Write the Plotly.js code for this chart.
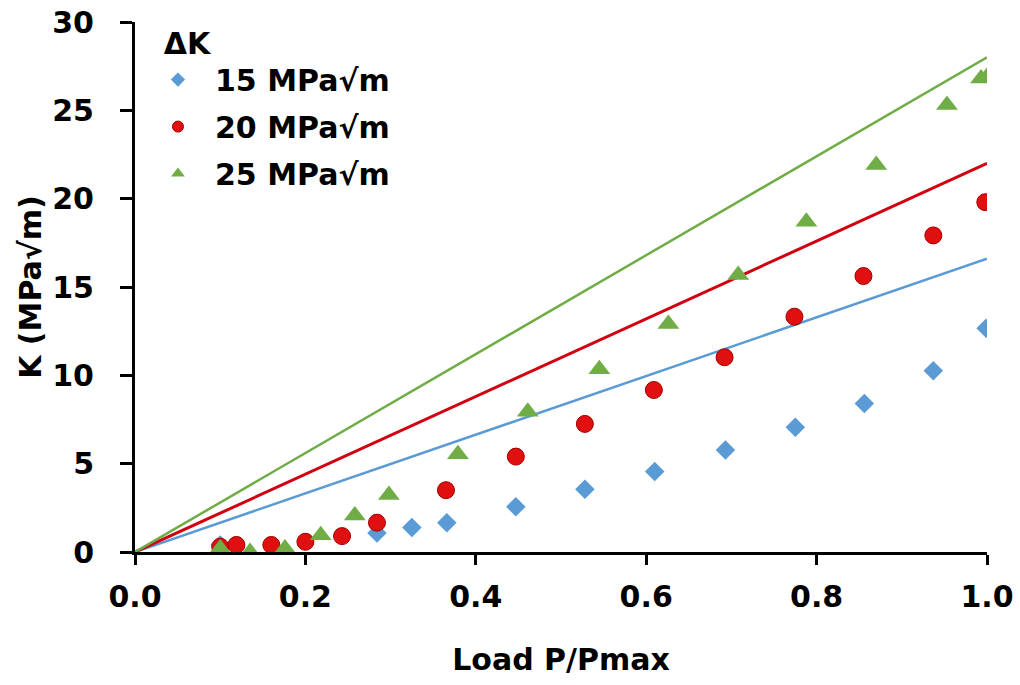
<!DOCTYPE html>
<html>
<head>
<meta charset="utf-8">
<script src="https://cdn.plot.ly/plotly-3.0.1.min.js"></script>
<style>html,body{margin:0;padding:0;background:#fff;}#chart{width:1020px;height:685px;}</style>
</head>
<body>
<div id="chart"></div>
<script>
// Series names
const seriesNames = ["15 MPa√m", "20 MPa√m", "25 MPa√m"];

// ΔK = 15 MPa√m (measured points)
const x15 = [0.100, 0.284, 0.325, 0.366, 0.447, 0.528, 0.610, 0.693, 0.775, 0.856, 0.937, 0.999];
const y15 = [0.40, 1.07, 1.38, 1.66, 2.56, 3.55, 4.55, 5.77, 7.06, 8.41, 10.26, 12.66];

// ΔK = 20 MPa√m
const x20 = [0.100, 0.119, 0.160, 0.200, 0.243, 0.284, 0.365, 0.447, 0.528, 0.609, 0.692, 0.774, 0.855, 0.937, 0.998];
const y20 = [0.30, 0.40, 0.40, 0.58, 0.90, 1.66, 3.50, 5.40, 7.25, 9.17, 11.02, 13.32, 15.62, 17.92, 19.80];

// ΔK = 25 MPa√m
const x25 = [0.100, 0.135, 0.176, 0.218, 0.258, 0.298, 0.379, 0.461, 0.545, 0.626, 0.708, 0.788, 0.870, 0.953, 0.993, 1.000];
const y25 = [0.20, 0.00, 0.20, 0.95, 2.07, 3.22, 5.53, 7.94, 10.34, 12.90, 15.68, 18.70, 21.90, 25.30, 26.80, 26.90];

// Straight reference lines (start and end)
const lineX = [0, 1];
const line15 = [0, 16.6];
const line20 = [0, 22.0];
const line25 = [0, 28.0];

// Axis ticks
const xTicks = [0, 0.2, 0.4, 0.6, 0.8, 1.0];
const xTickText = ["0.0", "0.2", "0.4", "0.6", "0.8", "1.0"];
const yTicks = [0, 5, 10, 15, 20, 25, 30];

const cBlue = "#5B9BD5", cRed = "#E01010", cGreen = "#70AD47";
const FONT = "'DejaVu Sans', sans-serif";
const FS = 30;

const traces = [
  {x: lineX, y: line15, mode: "lines", line: {color: cBlue, width: 2.5}, showlegend: false, hoverinfo: "skip"},
  {x: lineX, y: line20, mode: "lines", line: {color: "#D00010", width: 3}, showlegend: false, hoverinfo: "skip"},
  {x: lineX, y: line25, mode: "lines", line: {color: cGreen, width: 2.5}, showlegend: false, hoverinfo: "skip"},
  {x: x15, y: y15, mode: "markers", showlegend: false,
   marker: {symbol: "diamond", size: 15, color: cBlue, line: {width: 0}}},
  {x: x20, y: y20, mode: "markers", showlegend: false,
   marker: {symbol: "circle", size: 17, color: cRed, line: {width: 1, color: "#A00000"}}},
  {x: x25, y: y25, mode: "markers", showlegend: false,
   marker: {symbol: "triangle-up", size: 19, color: cGreen, line: {width: 0}}},
  // legend entries
  {x: [null], y: [null], mode: "markers", name: seriesNames[0], legendgroup: "a",
   marker: {symbol: "diamond", size: 11, color: cBlue}},
  {x: [null], y: [null], mode: "markers", name: seriesNames[1], legendgroup: "b",
   marker: {symbol: "circle", size: 11, color: cRed, line: {width: 1, color: "#A00000"}}},
  {x: [null], y: [null], mode: "markers", name: seriesNames[2], legendgroup: "c",
   marker: {symbol: "triangle-up", size: 12, color: cGreen}}
];

const layout = {
  width: 1020, height: 685,
  paper_bgcolor: "#fff", plot_bgcolor: "#fff",
  margin: {l: 135, r: 33, t: 22, b: 133},
  font: {family: FONT, size: FS, color: "#000", weight: 700},
  showlegend: true,
  legend: {
    x: 0.007, y: 1.014, xanchor: "left", yanchor: "top",
    bgcolor: "rgba(255,255,255,0)",
    font: {family: FONT, size: FS, color: "#000", weight: 700},
    title: {text: "\u00a0\u00a0ΔK", font: {family: FONT, size: FS, color: "#000", weight: 700}},
    itemwidth: 64, tracegroupgap: 5, itemsizing: "trace", traceorder: "grouped"
  },
  xaxis: {
    range: [0, 1.0], tickvals: xTicks, ticktext: xTickText,
    showgrid: false, zeroline: false,
    showline: true, linecolor: "#000", linewidth: 3,
    ticks: "outside", ticklen: 10, tickwidth: 3, tickcolor: "#000",
    ticklabelstandoff: 6,
    tickfont: {family: FONT, size: FS, color: "#000", weight: 700},
    title: {text: "Load P/Pmax", standoff: 36, font: {family: FONT, size: FS, color: "#000", weight: 700}}
  },
  yaxis: {
    range: [0, 30], tickvals: yTicks,
    showgrid: false, zeroline: false,
    showline: true, linecolor: "#000", linewidth: 3,
    ticks: "outside", ticklen: 12, tickwidth: 3, tickcolor: "#000",
    ticklabelstandoff: 20,
    tickfont: {family: FONT, size: FS, color: "#000", weight: 700},
    title: {text: "K (MPa√m)", standoff: 2, font: {family: FONT, size: FS, color: "#000", weight: 700}}
  }
};

Plotly.newPlot("chart", traces, layout, {displayModeBar: false, staticPlot: true});
</script>
</body>
</html>
